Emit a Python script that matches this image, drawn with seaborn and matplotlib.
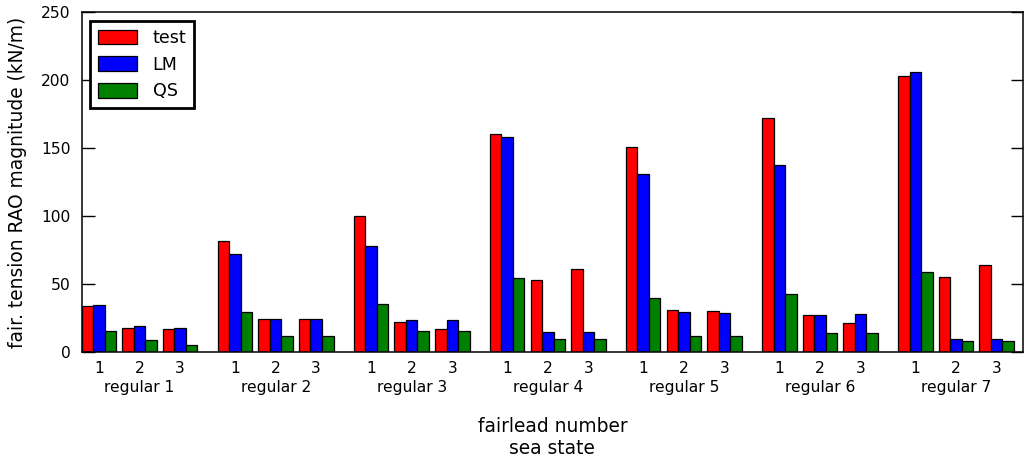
import numpy as np
import pandas as pd
import matplotlib
matplotlib.use("Agg")
import matplotlib.pyplot as plt
import seaborn as sns

sea_states = ["regular 1", "regular 2", "regular 3", "regular 4",
              "regular 5", "regular 6", "regular 7"]
fairleads = ["1", "2", "3"]
models = ["test", "LM", "QS"]

# values per sea state: [fairlead1, fairlead2, fairlead3]
test_vals = [[34.1, 18.1, 17.2],
             [82.1, 24.5, 24.5],
             [100.5, 22.5, 17.4],
             [160.3, 53.4, 61.0],
             [151.2, 30.9, 30.4],
             [172.1, 27.7, 21.8],
             [203.2, 55.1, 64.2]]
lm_vals = [[35.0, 19.1, 18.1],
           [72.3, 24.5, 24.5],
           [78.4, 23.5, 23.5],
           [158.6, 14.7, 14.7],
           [131.1, 29.4, 29.2],
           [137.5, 27.7, 27.9],
           [206.4, 9.8, 9.8]]
qs_vals = [[15.4, 9.1, 5.6],
           [29.7, 12.0, 12.0],
           [35.3, 15.9, 15.9],
           [54.7, 10.0, 10.0],
           [39.7, 11.8, 11.8],
           [43.1, 14.5, 14.5],
           [59.3, 8.1, 8.1]]

colors = ["#ff0000", "#0000ff", "#008000"]
state_step = 3.35

rows = []
for mi, (m, vals) in enumerate(zip(models, [test_vals, lm_vals, qs_vals])):
    for si, s in enumerate(sea_states):
        for fi, f in enumerate(fairleads):
            rows.append({"pos": si * state_step + fi, "model": m,
                         "value": vals[si][fi], "state": s, "fairlead": f})
df = pd.DataFrame(rows)

plt.rcParams["font.family"] = ["DejaVu Sans"]
fig = plt.figure(figsize=(10.30, 4.58), dpi=100)
ax = fig.add_axes([0.0793, 0.2308, 0.9139, 0.7423])

sns.barplot(data=df, x="pos", y="value", hue="model", hue_order=models,
            palette=colors, native_scale=True, width=0.85, errorbar=None,
            edgecolor="black", linewidth=0.9, saturation=1, ax=ax)

positions = sorted(df["pos"].unique())
ax.set_xlim(-0.425, 6 * state_step + 2 + 0.65)
ax.set_ylim(0, 250)
ax.set_yticks([0, 50, 100, 150, 200, 250])
ax.set_xticks(positions)
ax.set_xticklabels([df[df["pos"] == p]["fairlead"].iloc[0] for p in positions])
ax.tick_params(axis="x", length=0, pad=6, labelsize=11.2)
ax.tick_params(axis="y", direction="in", length=9, width=1, left=True,
               right=True, labelsize=11.2, pad=8)
for sp in ax.spines.values():
    sp.set_visible(True)
    sp.set_linewidth(1.1)
    sp.set_color("black")

sec = ax.secondary_xaxis("bottom")
sec.set_xticks([si * state_step + 1 for si in range(len(sea_states))])
sec.set_xticklabels(sea_states)
sec.tick_params(length=0, pad=20, labelsize=11.2)
sec.spines["bottom"].set_visible(False)

ax.set_xlabel("fairlead number\nsea state", fontsize=13.4, labelpad=30)
ax.set_ylabel("fair. tension RAO magnitude (kN/m)", fontsize=13.4, labelpad=10)

handles, labels = ax.get_legend_handles_labels()
leg = ax.legend(handles, labels, loc="upper left", fontsize=12.6,
                frameon=True, fancybox=False, framealpha=1, edgecolor="black",
                handlelength=2.2, handleheight=0.9, handletextpad=0.9,
                borderpad=0.45, labelspacing=0.5, borderaxespad=0.5)
leg.get_frame().set_linewidth(2)

fig.savefig("out.png", dpi=100)
